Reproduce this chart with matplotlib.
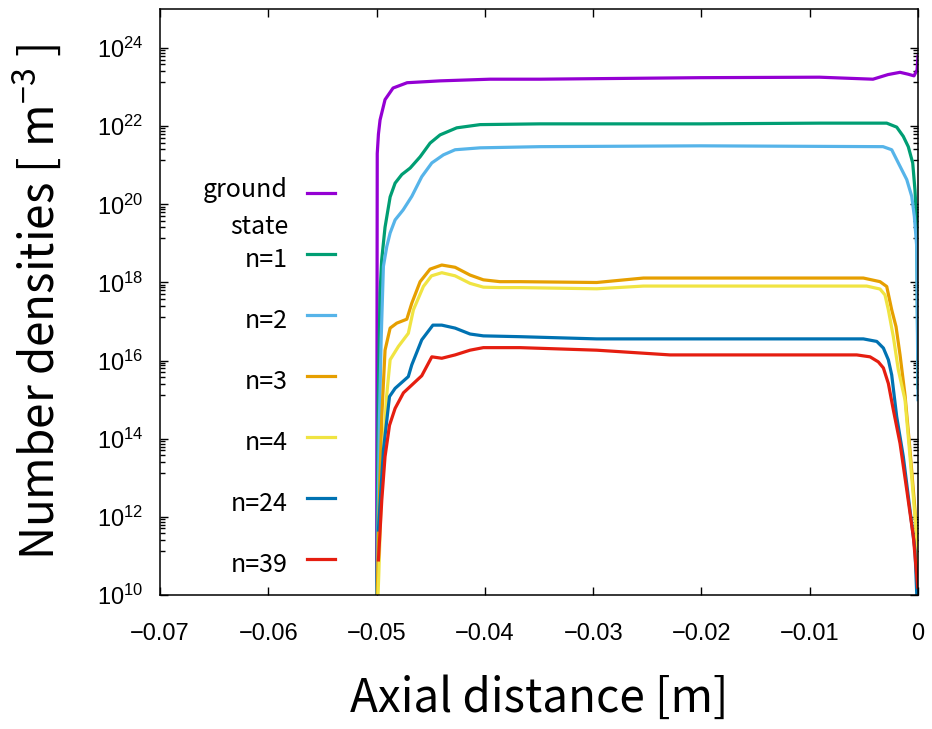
import numpy as np
import matplotlib
matplotlib.use("Agg")
import matplotlib.pyplot as plt
from matplotlib.ticker import FixedLocator, FuncFormatter, NullFormatter

plt.rcParams["font.family"] = ["Noto Sans CJK JP", "DejaVu Sans"]
plt.rcParams["mathtext.fontset"] = "custom"
plt.rcParams["mathtext.rm"] = "Liberation Sans"

# axial position [m] and number density [m^-3] for each level
x_ground = [-0.0500, -0.04994, -0.04983, -0.04968, -0.04922, -0.04848, -0.04718, -0.04414,
            -0.03952, -0.0349, -0.0201, -0.0091, -0.00416, -0.00277, -0.00166, -0.00092,
            -0.00037, -0.00009, 0.0]
n_ground = [1e9, 2.0e21, 6.3e21, 1.45e22, 4.8e22, 9.5e22, 1.3e23, 1.45e23,
            1.6e23, 1.6e23, 1.75e23, 1.8e23, 1.6e23, 2.1e23, 2.4e23, 2.15e23,
            1.95e23, 2.75e23, 6.3e23]

x_n1 = [-0.0500, -0.04985, -0.04968, -0.04953, -0.04922, -0.04875, -0.04829, -0.04767,
        -0.0469, -0.04598, -0.04506, -0.04414, -0.0426, -0.04044, -0.0349, -0.0201,
        -0.0090, -0.00289, -0.00197, -0.00136, -0.0009, -0.00049, -0.00028, -0.00012, 0.0]
n_n1 = [1e9, 1.0e15, 5.4e17, 3.8e18, 2.6e19, 1.55e20, 3.5e20, 5.8e20,
        8.5e20, 1.65e21, 3.7e21, 6.0e21, 9.1e21, 1.1e22, 1.15e22, 1.15e22,
        1.2e22, 1.2e22, 9.5e21, 5.5e21, 3.0e21, 1.15e21, 2.3e20, 3.4e19, 2.0e15]

x_n2 = [-0.0500, -0.04974, -0.04958, -0.04937, -0.04906, -0.04875, -0.04829, -0.04755,
        -0.04675, -0.04583, -0.0449, -0.04383, -0.04275, -0.04044, -0.0349, -0.0201,
        -0.00323, -0.00243, -0.00182, -0.00104, -0.00058, -0.00034, -0.00012, 0.0]
n_n2 = [1e9, 3.0e14, 3.4e16, 2.6e18, 8.3e18, 1.85e19, 4.0e19, 7.2e19,
        1.6e20, 5.1e20, 1.15e21, 1.85e21, 2.5e21, 2.8e21, 3.0e21, 3.15e21,
        3.0e21, 2.5e21, 1.15e21, 4.3e20, 1.6e20, 4.9e19, 8.3e18, 1.0e15]

x_n3 = [-0.0500, -0.04983, -0.04952, -0.04922, -0.04875, -0.04814, -0.04721, -0.04675,
        -0.04598, -0.04506, -0.04398, -0.04275, -0.04137, -0.04014, -0.0386, -0.03675,
        -0.02967, -0.02536, -0.00505, -0.00351, -0.00289, -0.00243, -0.00203, -0.00166,
        -0.0012, -0.00074, -0.00028, 0.0]
n_n3 = [1e9, 3.8e11, 3.7e14, 1.85e16, 6.8e16, 9.1e16, 1.15e17, 2.95e17,
        1.05e18, 2.2e18, 2.8e18, 2.45e18, 1.55e18, 1.17e18, 1.05e18, 1.05e18,
        1.0e18, 1.3e18, 1.3e18, 1.05e18, 7.9e17, 2.0e17, 7.4e16, 1.4e16,
        1.3e15, 5.1e13, 1.5e12, 4.4e10]

x_n4 = [-0.0500, -0.0498, -0.04958, -0.04911, -0.04875, -0.04799, -0.04707, -0.0466,
        -0.04568, -0.04493, -0.04398, -0.04275, -0.04137, -0.04014, -0.0386, -0.03675,
        -0.02967, -0.02536, -0.00474, -0.00351, -0.00305, -0.00274, -0.00228, -0.00182,
        -0.0012, -0.00074, -0.00028, -0.00003, 0.0]
n_n4 = [1e9, 3.2e10, 2.7e12, 9.8e14, 1.05e16, 2.3e16, 5.0e16, 2.0e17,
        7.9e17, 1.48e18, 1.78e18, 1.48e18, 9.5e17, 7.6e17, 7.4e17, 7.4e17,
        6.9e17, 8.1e17, 8.1e17, 6.8e17, 4.8e17, 2.0e17, 4.1e16, 5.8e15,
        9.8e14, 3.5e13, 1.0e12, 1.4e11, 1.0e10]

x_n24 = [-0.04983, -0.04937, -0.04881, -0.04829, -0.04707, -0.04675, -0.04583, -0.0448,
         -0.04398, -0.04275, -0.04137, -0.04014, -0.03675, -0.02967, -0.00505, -0.00381,
         -0.0032, -0.00274, -0.00243, -0.00197, -0.00136, -0.00074, -0.00028, -0.00012]
n_n24 = [4.6e11, 5.1e13, 1.2e15, 1.95e15, 3.9e15, 7.8e15, 3.4e16, 8.1e16,
         8.1e16, 6.8e16, 4.8e16, 4.3e16, 4.1e16, 3.6e16, 3.6e16, 3.1e16,
         2.1e16, 1.05e16, 4.3e15, 3.7e14, 3.5e13, 1.5e12, 1.4e11, 1.1e10]

x_n39 = [-0.04983, -0.04952, -0.04922, -0.04881, -0.04829, -0.04752, -0.04583, -0.0449,
         -0.04398, -0.04275, -0.04137, -0.04014, -0.03675, -0.02967, -0.0229, -0.00566,
         -0.00443, -0.00367, -0.0032, -0.00274, -0.00228, -0.00166, -0.00104, -0.00043,
         -0.00003]
n_n39 = [7.9e10, 2.7e12, 3.5e13, 2.2e14, 6.0e14, 1.5e15, 4.1e15, 1.25e16,
         1.15e16, 1.4e16, 1.85e16, 2.15e16, 2.15e16, 1.85e16, 1.4e16, 1.4e16,
         1.25e16, 9.3e15, 6.5e15, 2.6e15, 5.5e14, 7.6e13, 4.9e12, 3.1e11,
         1.6e10]

labels = ["ground\nstate", "n=1", "n=2", "n=3", "n=4", "n=24", "n=39"]
colors = ["#9400d3", "#009e73", "#56b4e9", "#e69f00", "#f0e442", "#0072b2", "#e51e10"]
series = [(x_ground, n_ground), (x_n1, n_n1), (x_n2, n_n2), (x_n3, n_n3),
          (x_n4, n_n4), (x_n24, n_n24), (x_n39, n_n39)]

x_ticks = [-0.07, -0.06, -0.05, -0.04, -0.03, -0.02, -0.01, 0.0]
x_tick_labels = ["\u22120.07", "\u22120.06", "\u22120.05", "\u22120.04",
                 "\u22120.03", "\u22120.02", "\u22120.01", "0"]
y_exponents = [10, 12, 14, 16, 18, 20, 22, 24]

fig = plt.figure(figsize=(9.32, 7.29), dpi=100)
ax = fig.add_axes([0.1717, 0.1838, 0.8133, 0.8038])

for (xs, ns), c in zip(series, colors):
    ax.plot(xs, ns, color=c, lw=2.3, solid_joinstyle="round")

ax.set_yscale("log")
ax.set_xlim(-0.07, 0.0)
ax.set_ylim(1e10, 1e25)

ax.xaxis.set_major_locator(FixedLocator(x_ticks))
ax.set_xticklabels(x_tick_labels)
ax.yaxis.set_major_locator(FixedLocator([10.0 ** e for e in y_exponents]))
ax.yaxis.set_major_formatter(FuncFormatter(lambda v, p: r"$\mathregular{10^{%d}}$" % round(np.log10(v))))
# minor ticks split each two-decade step into eight linear parts
minor = []
for e in y_exponents[:-1]:
    lo, hi = 10.0 ** e, 10.0 ** (e + 2)
    minor += [lo + k * (hi - lo) / 8 for k in range(1, 8)]
ax.yaxis.set_minor_locator(FixedLocator(minor))
ax.yaxis.set_minor_formatter(NullFormatter())
ax.xaxis.set_minor_locator(FixedLocator([]))

ax.tick_params(which="both", direction="in", top=True, right=True, width=1)
ax.tick_params(which="major", length=6)
ax.tick_params(which="minor", length=3.5)
ax.tick_params(axis="x", pad=20)
ax.tick_params(axis="y", pad=12)
for lab in ax.get_xticklabels() + ax.get_yticklabels():
    lab.set_fontfamily("Liberation Sans")
    lab.set_fontsize(17)
for s in ax.spines.values():
    s.set_linewidth(1.1)

ax.set_xlabel("Axial distance [m]", fontsize=33)
ax.xaxis.set_label_coords(0.5, -0.135)
ax.set_ylabel("Number densities [ m$^{\\mathregular{-3}}$ ]", fontsize=33)
ax.yaxis.set_label_coords(-0.125, 0.5)

# key on the left, text right-aligned before each sample line
key_y0, key_step = 0.686, 0.1041
for i, (lab, c) in enumerate(zip(labels, colors)):
    y = key_y0 - i * key_step
    ty = y - 0.027 if i == 0 else y - 0.01
    ax.text(0.1689, ty, lab, transform=ax.transAxes, ha="right", va="center",
            fontsize=18, linespacing=1.55)
    ax.plot([0.1939, 0.2309], [y, y], transform=ax.transAxes, color=c, lw=2.3)

fig.savefig("out.png", dpi=100)
